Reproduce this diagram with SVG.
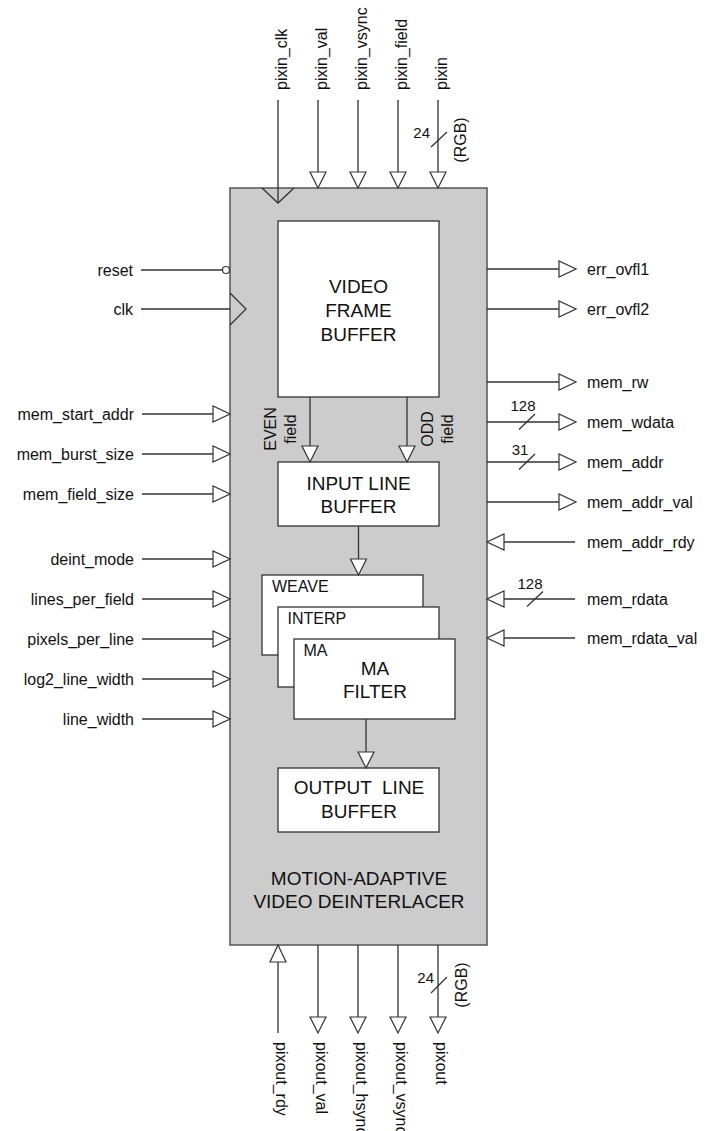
<svg xmlns="http://www.w3.org/2000/svg" width="712" height="1131" viewBox="0 0 712 1131">
<style>
text{font-family:"Liberation Sans",Arial,sans-serif;fill:#111}
.pin{font-size:16px}
.big{font-size:19px;text-anchor:middle}
.num{font-size:15px}
.w{stroke:#333;stroke-width:1.3;fill:none}
.tri{stroke:#333;stroke-width:1.2;fill:#fff}
.blk{fill:#fff;stroke:#333;stroke-width:1.3}
</style>
<rect width="712" height="1131" fill="#fff"/>
<g id="deinterlacer">
<rect x="230" y="188" width="257" height="757" fill="#cccccc" stroke="#555" stroke-width="1.5"/>
<text class="big" x="359" y="885">MOTION-ADAPTIVE</text>
<text class="big" x="359" y="908">VIDEO DEINTERLACER</text>
</g>
<g id="video_frame_buffer">
<rect class="blk" x="278" y="221" width="161" height="176"/>
<text class="big" x="358.5" y="293">VIDEO</text>
<text class="big" x="358.5" y="317">FRAME</text>
<text class="big" x="358.5" y="341">BUFFER</text>
</g>
<g id="input_line_buffer">
<rect class="blk" x="278" y="462" width="161" height="64"/>
<text class="big" x="358.5" y="490">INPUT LINE</text>
<text class="big" x="358.5" y="513">BUFFER</text>
</g>
<g id="weave">
<rect class="blk" x="262" y="575" width="161" height="80"/>
<text class="pin" x="272" y="592">WEAVE</text>
</g>
<g id="interp">
<rect class="blk" x="278" y="607" width="161" height="80"/>
<text class="pin" x="287.5" y="624">INTERP</text>
</g>
<g id="ma_filter">
<rect class="blk" x="294" y="639" width="161" height="80"/>
<text class="pin" x="303.5" y="656">MA</text>
<text class="big" x="375" y="675">MA</text>
<text class="big" x="375" y="698">FILTER</text>
</g>
<g id="output_line_buffer">
<rect class="blk" x="278" y="768" width="161" height="64"/>
<text class="big" x="359" y="794" style="white-space:pre">OUTPUT  LINE</text>
<text class="big" x="359" y="818">BUFFER</text>
</g>
<g id="connectors">
<!-- internal -->
<line class="w" x1="310" y1="397" x2="310" y2="446"/>
<polygon class="tri" points="302,446 318,446 310,462"/>
<line class="w" x1="407" y1="397" x2="407" y2="446"/>
<polygon class="tri" points="399,446 415,446 407,462"/>
<line class="w" x1="358.5" y1="526" x2="358.5" y2="559"/>
<polygon class="tri" points="350.5,559 366.5,559 358.5,575"/>
<line class="w" x1="366" y1="719" x2="366" y2="752"/>
<polygon class="tri" points="358,752 374,752 366,768"/>
<text class="pin" transform="translate(276,429) rotate(-90)" text-anchor="middle">EVEN</text>
<text class="pin" transform="translate(296,429) rotate(-90)" text-anchor="middle">field</text>
<text class="pin" transform="translate(433,429) rotate(-90)" text-anchor="middle">ODD</text>
<text class="pin" transform="translate(453,429) rotate(-90)" text-anchor="middle">field</text>

<!-- top inputs -->
<line class="w" x1="278" y1="100" x2="278" y2="203"/>
<polyline class="w" points="262,188 278,203 294,188"/>
<text class="pin" transform="translate(287,90) rotate(-90)">pixin_clk</text>
<line class="w" x1="318" y1="100" x2="318" y2="172"/>
<polygon class="tri" points="310,172 326,172 318,188"/>
<text class="pin" transform="translate(327,90) rotate(-90)">pixin_val</text>
<line class="w" x1="358" y1="100" x2="358" y2="172"/>
<polygon class="tri" points="350,172 366,172 358,188"/>
<text class="pin" transform="translate(367,90) rotate(-90)">pixin_vsync</text>
<line class="w" x1="398" y1="100" x2="398" y2="172"/>
<polygon class="tri" points="390,172 406,172 398,188"/>
<text class="pin" transform="translate(407,90) rotate(-90)">pixin_field</text>
<line class="w" x1="438" y1="100" x2="438" y2="172"/>
<polygon class="tri" points="430,172 446,172 438,188"/>
<text class="pin" transform="translate(447,90) rotate(-90)">pixin</text>
<line class="w" x1="431" y1="147" x2="447" y2="132"/>
<text class="num" x="430" y="138" text-anchor="end">24</text>
<text class="pin" transform="translate(466,140) rotate(-90)" text-anchor="middle">(RGB)</text>

<!-- left -->
<line class="w" x1="141" y1="270" x2="222.5" y2="270"/>
<circle cx="226" cy="270" r="3.5" fill="#fff" stroke="#333" stroke-width="1.2"/>
<text class="pin" x="133" y="275.5" text-anchor="end">reset</text>
<line class="w" x1="141" y1="309" x2="230" y2="309"/>
<polyline class="w" points="230,293 246,309 230,325"/>
<text class="pin" x="133" y="314.5" text-anchor="end">clk</text>

<line class="w" x1="142" y1="414" x2="213" y2="414"/>
<polygon class="tri" points="213,406 213,422 230,414"/>
<text class="pin" x="134" y="419.5" text-anchor="end">mem_start_addr</text>
<line class="w" x1="142" y1="454" x2="213" y2="454"/>
<polygon class="tri" points="213,446 213,462 230,454"/>
<text class="pin" x="134" y="459.5" text-anchor="end">mem_burst_size</text>
<line class="w" x1="142" y1="494" x2="213" y2="494"/>
<polygon class="tri" points="213,486 213,502 230,494"/>
<text class="pin" x="134" y="499.5" text-anchor="end">mem_field_size</text>
<line class="w" x1="142" y1="559" x2="213" y2="559"/>
<polygon class="tri" points="213,551 213,567 230,559"/>
<text class="pin" x="134" y="564.5" text-anchor="end">deint_mode</text>
<line class="w" x1="142" y1="599" x2="213" y2="599"/>
<polygon class="tri" points="213,591 213,607 230,599"/>
<text class="pin" x="134" y="604.5" text-anchor="end">lines_per_field</text>
<line class="w" x1="142" y1="639" x2="213" y2="639"/>
<polygon class="tri" points="213,631 213,647 230,639"/>
<text class="pin" x="134" y="644.5" text-anchor="end">pixels_per_line</text>
<line class="w" x1="142" y1="679" x2="213" y2="679"/>
<polygon class="tri" points="213,671 213,687 230,679"/>
<text class="pin" x="134" y="684.5" text-anchor="end">log2_line_width</text>
<line class="w" x1="142" y1="719" x2="213" y2="719"/>
<polygon class="tri" points="213,711 213,727 230,719"/>
<text class="pin" x="134" y="724.5" text-anchor="end">line_width</text>

<!-- right outputs -->
<line class="w" x1="487" y1="269" x2="559" y2="269"/>
<polygon class="tri" points="559,261 559,277 576,269"/>
<text class="pin" x="587" y="274.5">err_ovfl1</text>
<line class="w" x1="487" y1="309" x2="559" y2="309"/>
<polygon class="tri" points="559,301 559,317 576,309"/>
<text class="pin" x="587" y="314.5">err_ovfl2</text>
<line class="w" x1="487" y1="382" x2="559" y2="382"/>
<polygon class="tri" points="559,374 559,390 576,382"/>
<text class="pin" x="587" y="387.5">mem_rw</text>
<line class="w" x1="487" y1="422" x2="559" y2="422"/>
<polygon class="tri" points="559,414 559,430 576,422"/>
<text class="pin" x="587" y="427.5">mem_wdata</text>
<line class="w" x1="519" y1="429.5" x2="535" y2="414"/>
<text class="num" x="523" y="411" text-anchor="middle">128</text>
<line class="w" x1="487" y1="462" x2="559" y2="462"/>
<polygon class="tri" points="559,454 559,470 576,462"/>
<text class="pin" x="587" y="467.5">mem_addr</text>
<line class="w" x1="519" y1="469.5" x2="535" y2="454"/>
<text class="num" x="520" y="455" text-anchor="middle">31</text>
<line class="w" x1="487" y1="502" x2="559" y2="502"/>
<polygon class="tri" points="559,494 559,510 576,502"/>
<text class="pin" x="587" y="507.5">mem_addr_val</text>

<!-- right inputs -->
<line class="w" x1="504" y1="542" x2="575" y2="542"/>
<polygon class="tri" points="504,534 504,550 487,542"/>
<text class="pin" x="587" y="547.5">mem_addr_rdy</text>
<line class="w" x1="504" y1="599" x2="575" y2="599"/>
<polygon class="tri" points="504,591 504,607 487,599"/>
<text class="pin" x="587" y="604.5">mem_rdata</text>
<line class="w" x1="527" y1="606.5" x2="543" y2="591.5"/>
<text class="num" x="530" y="589" text-anchor="middle">128</text>
<line class="w" x1="504" y1="638" x2="575" y2="638"/>
<polygon class="tri" points="504,630 504,646 487,638"/>
<text class="pin" x="587" y="643.5">mem_rdata_val</text>

<!-- bottom -->
<line class="w" x1="278" y1="962" x2="278" y2="1033"/>
<polygon class="tri" points="270,962 286,962 278,945"/>
<text class="pin" transform="translate(276,1042) rotate(90)">pixout_rdy</text>
<line class="w" x1="318" y1="945" x2="318" y2="1017"/>
<polygon class="tri" points="310,1017 326,1017 318,1033"/>
<text class="pin" transform="translate(315.5,1042) rotate(90)">pixout_val</text>
<line class="w" x1="358" y1="945" x2="358" y2="1017"/>
<polygon class="tri" points="350,1017 366,1017 358,1033"/>
<text class="pin" transform="translate(355.5,1042) rotate(90)">pixout_hsync</text>
<line class="w" x1="398" y1="945" x2="398" y2="1017"/>
<polygon class="tri" points="390,1017 406,1017 398,1033"/>
<text class="pin" transform="translate(395.5,1042) rotate(90)">pixout_vsync</text>
<line class="w" x1="438" y1="945" x2="438" y2="1017"/>
<polygon class="tri" points="430,1017 446,1017 438,1033"/>
<text class="pin" transform="translate(435.5,1042) rotate(90)">pixout</text>
<line class="w" x1="431" y1="993" x2="447" y2="977"/>
<text class="num" x="434" y="983" text-anchor="end">24</text>
<text class="pin" transform="translate(467,985) rotate(-90)" text-anchor="middle">(RGB)</text>
</g>
</svg>
